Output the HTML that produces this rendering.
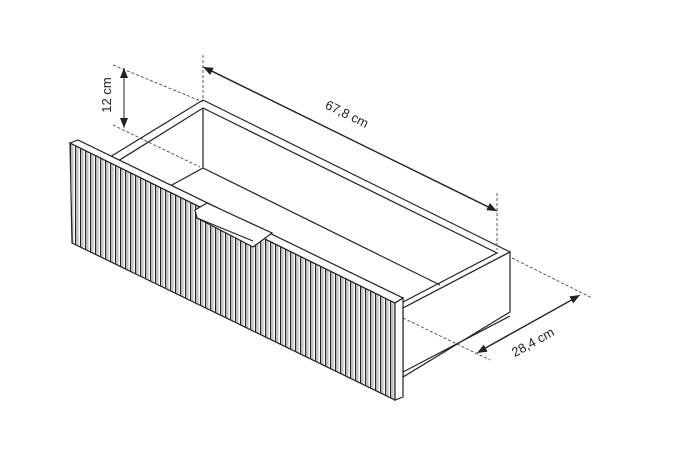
<!DOCTYPE html><html><head><meta charset="utf-8"><style>body{margin:0;background:#fff}svg{display:block}</style></head><body>
<svg width="691" height="460" viewBox="0 0 691 460" xmlns="http://www.w3.org/2000/svg" font-family="Liberation Sans, sans-serif">
<defs>
<pattern id="fl" width="5" height="10" patternUnits="userSpaceOnUse">
<rect width="5" height="10" fill="#fff"/><rect x="0" width="1.3" height="10" fill="#222"/><rect x="2.5" width="0.8" height="10" fill="#888"/>
</pattern>
<clipPath id="cf"><polygon points="70,143 395,303 395,400 72,243"/></clipPath>
<marker id="ar" markerWidth="10" markerHeight="8" refX="10" refY="4" orient="auto" markerUnits="userSpaceOnUse"><path d="M0,0 L10,4 L0,8z" fill="#222"/></marker>
</defs>
<g stroke="#222" fill="none" stroke-width="1.2">
<!-- drawer box -->
<polygon points="110,157 203,100 510,252 403,308" fill="#fff"/>
<polyline points="118,161 203,108 497,253 403,302"/>
<line x1="203" y1="108" x2="203" y2="168"/>
<line x1="203" y1="168" x2="170" y2="186"/>
<line x1="203" y1="168" x2="440" y2="285"/>
<polygon points="403,308 510,252 510,312 403,377" fill="#fff"/>
<line x1="403" y1="372" x2="510" y2="316"/>
<!-- front panel -->
<polygon points="70,143 395,303 395,400 72,243" fill="url(#fl)"/>
<polygon points="70,143 78,140 403,298 395,303" fill="#fff"/>
<polygon points="395,303 403,298 403,397 395,400" fill="#fff"/>
<!-- handle -->
<polygon points="195,210 207,203 272,233 253,247 197,218" fill="#fff"/>
<line x1="197" y1="218" x2="253" y2="241"/>
</g>
<!-- dimensions -->
<g stroke="#333" stroke-width="0.8" stroke-dasharray="3,2" fill="none">
<line x1="203" y1="55" x2="203" y2="100"/>
<line x1="497" y1="193" x2="497" y2="250"/>
<line x1="113" y1="65" x2="203" y2="102"/>
<line x1="113" y1="125" x2="200" y2="167"/>
<line x1="512" y1="258" x2="592" y2="298"/>
<line x1="403" y1="318" x2="490" y2="360"/>
</g>
<g stroke="#222" stroke-width="1">
<line x1="210" y1="70" x2="497" y2="211" marker-end="url(#ar)"/>
<line x1="490" y1="208" x2="203" y2="67" marker-end="url(#ar)"/>
<line x1="124" y1="75" x2="124" y2="128" marker-end="url(#ar)"/>
<line x1="124" y1="122" x2="124" y2="68" marker-end="url(#ar)"/>
<line x1="485" y1="348" x2="580" y2="295" marker-end="url(#ar)"/>
<line x1="572" y1="300" x2="477" y2="353" marker-end="url(#ar)"/>
</g>
<g fill="#222" font-size="13">
<text x="345" y="118" text-anchor="middle" transform="rotate(26 345 118)">67,8 cm</text>
<text x="111" y="95" text-anchor="middle" transform="rotate(-90 111 95)">12 cm</text>
<text x="535" y="346" text-anchor="middle" transform="rotate(-29 535 346)">28,4 cm</text>
</g>
</svg></body></html>
